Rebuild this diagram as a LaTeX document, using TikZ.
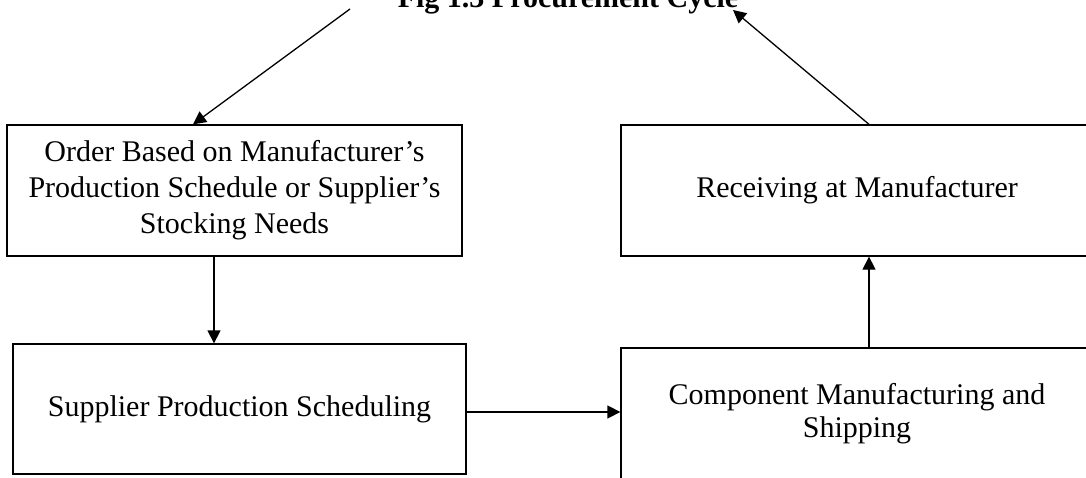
\documentclass[tikz,border=0pt]{standalone}
\usepackage{fontspec}
\setmainfont{Liberation Serif}
\usetikzlibrary{arrows.meta}
\begin{document}
\begin{tikzpicture}[x=1pt,y=-1pt,
  stepbox/.style={draw,line width=1.3pt,rectangle,align=center,inner sep=0pt,
    font=\fontsize{30}{36}\selectfont},
  arr/.style={line width=1.3pt,-{Triangle[length=13pt,width=13pt]}}]
\useasboundingbox (0,0) rectangle (1086,478);

% heading of the figure
\node[anchor=base,font=\fontsize{30}{36}\selectfont\bfseries] (title) at (568,8)
  {Fig 1.3 Procurement Cycle};

% process steps
\node[stepbox,minimum width=455,minimum height=131] (order) at (234.5,190.5)
  {Order Based on Manufacturer’s\\Production Schedule or Supplier’s\\Stocking Needs};
\node[stepbox,minimum width=472,minimum height=131] (recv) at (857,190.5)
  {Receiving at Manufacturer};
\node[stepbox,minimum width=453,minimum height=130] (sched) at (239.5,409)
  {Supplier Production Scheduling};
\node[stepbox,minimum width=472,minimum height=131,
  font=\fontsize{30}{33}\selectfont] (comp) at (857,413.5)
  {Component Manufacturing and\\Shipping};

% free ends of the slanted arrows next to the heading
\coordinate (t1) at (350,9);
\coordinate (t2) at (733,10);

% connectors
\draw[arr] (t1) -- ([xshift=-41.5]order.north);
\draw[arr] ([xshift=-20.5]order.south) -- ([xshift=-20.5]order.south |- sched.north);
\draw[arr] ([yshift=-3]sched.east) -- ([yshift=-3]sched.east -| comp.west);
\draw[arr] ([xshift=12]comp.north) -- ([xshift=12]comp.north |- recv.south);
\draw[arr] ([xshift=12]recv.north) -- (t2);
\end{tikzpicture}
\end{document}
